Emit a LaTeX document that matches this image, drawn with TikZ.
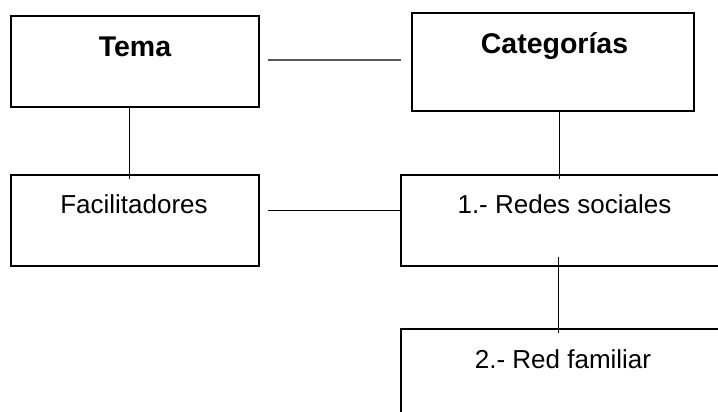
\documentclass[tikz,border=0pt]{standalone}
\usepackage{fontspec}
\setmainfont{Liberation Sans}
\usetikzlibrary{calc}

\begin{document}
\begin{tikzpicture}
	[
		x=1pt, y=-1pt,
		box/.style = {shape=rectangle, draw=black, line width=2.2pt, anchor=north west, inner sep=0pt, outer sep=0pt},
		lbox/.style = {box, minimum width=248pt, minimum height=91pt},
		rbox/.style = {box, minimum width=330pt, minimum height=91pt},
		head/.style = {anchor=base, font=\fontsize{28.5}{30}\selectfont\bfseries},
		txt/.style = {anchor=base, font=\fontsize{26}{28}\selectfont},
		link/.style = {draw=black, line width=1pt},
		glink/.style = {draw=black!65, line width=2pt}
	]

	\useasboundingbox (0,0) rectangle (718,412);
	\clip (0,0) rectangle (718,412);

	\node [lbox] (tema) at (11,16) {};
	\node [box, minimum width=282pt, minimum height=98pt] (cat) at (412,13) {};
	\node [lbox] (facil) at (11,175) {};
	\node [rbox] (redes) at (401,175) {};
	\node [rbox, minimum height=120pt] (familia) at (401,329) {};

	\node [head] (tematxt) at ($(tema.north west)+(124,41)$) {Tema};
	\node [head] (cattxt) at ($(cat.north west)+(142.5,41)$) {Categorías};
	\node [txt] (faciltxt) at ($(facil.north west)+(123,38)$) {Facilitadores};
	\node [txt] (redestxt) at ($(redes.north west)+(163.5,38)$) {1.- Redes sociales};
	\node [txt] (familiatxt) at ($(familia.north west)+(162,39)$) {2.- Red familiar};

	\draw [glink] ($(tema.north east)+(9,44)$) -- ($(cat.north west)+(-11,47)$);
	\draw [link] ($(facil.north east)+(9,35)$) -- ($(redes.north west)+(0,35)$);

	\draw [link] ($(tema.south west)+(118,0)$) -- ($(facil.north west)+(118,4)$);
	\draw [link] ($(cat.south west)+(147,0)$) -- ($(redes.north west)+(158,4)$);
	\draw [link] ($(redes.south west)+(157,-9)$) -- ($(familia.north west)+(157,4)$);

\end{tikzpicture}
\end{document}
